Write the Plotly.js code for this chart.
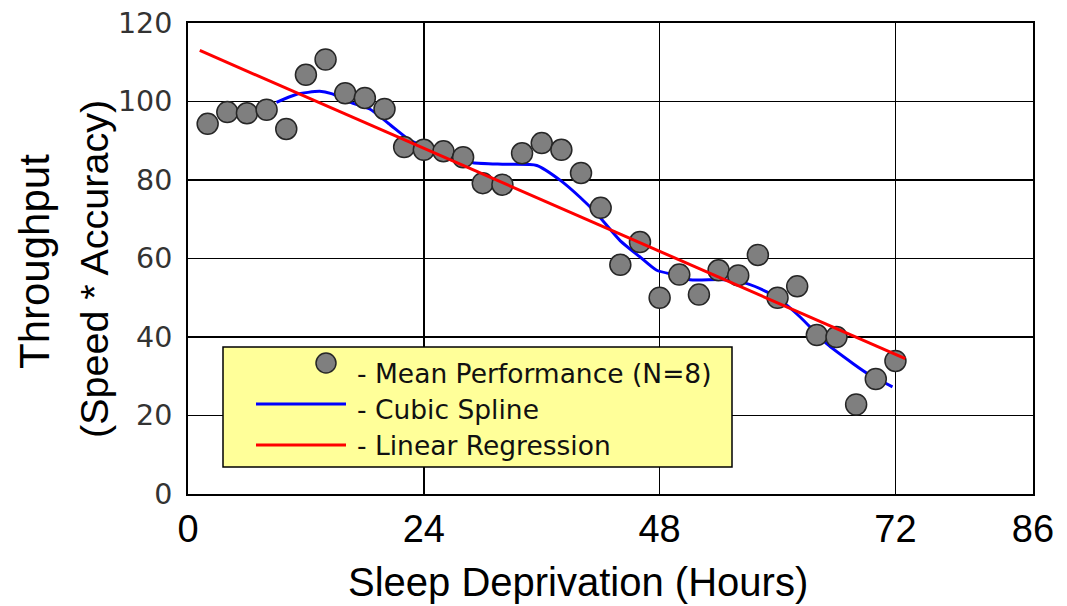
<!DOCTYPE html>
<html>
<head>
<meta charset="utf-8">
<script src="https://cdn.plot.ly/plotly-3.0.1.min.js"></script>
<style>
html,body{margin:0;padding:0;background:#fff;}
#chart{width:1067px;height:606px;}
</style>
</head>
<body>
<div id="chart"></div>
<script>
// Mean performance (N=8) every 2 hours of sleep deprivation
const hours = [2,4,6,8,10,12,14,16,18,20,22,24,26,28,30,32,34,36,38,40,42,44,46,48,50,52,54,56,58,60,62,64,66,68,70,72];
const throughput = [94.3,97.3,97.0,97.9,93.0,106.8,110.7,102.1,100.9,98.1,88.4,87.7,87.3,85.8,79.2,78.8,86.8,89.4,87.7,81.8,72.9,58.4,64.2,50.0,55.9,50.8,57.0,55.7,60.9,50.0,52.9,40.5,40.0,22.8,29.3,33.9];

// Cubic spline curve
const splineX = [9,11,13.4,14.6,16.8,18.5,20.6,22.6,25,27,29,32,35.5,37.9,39.9,41.6,44,46,47.7,49.8,51.1,54.5,56.9,58.9,60.3,62.3,65,67.7,69.4,71.7];
const splineY = [99.8,101.8,102.6,102.0,99.5,98.1,94.0,90.1,87.5,85.5,84.4,84.0,83.7,79.9,75.6,71.4,64.5,60.4,57.0,55.7,54.6,54.6,53.6,51.5,49.4,45.1,38.3,33.2,30.3,27.3];

// Linear regression line end points
const regX = [1.2, 73];
const regY = [113.0, 34.5];

// Axis ticks
const xTicks = [0,24,48,72,86];
const yTicks = [0,20,40,60,80,100,120];

// Legend labels
const legendLabels = ['- Mean Performance (N=8)', '- Cubic Spline', '- Linear Regression'];
const xTitle = 'Sleep Deprivation (Hours)';
const yTitle1 = 'Throughput';
const yTitle2 = '(Speed * Accuracy)';

const W = 1067, H = 606;
const L = 188, R = 1033, T = 23, B = 494;
const pw = R - L, ph = B - T;
const px = v => (v - L) / pw;        // pixel -> paper x
const py = v => (B - v) / ph;        // pixel -> paper y

const traces = [
  {x: splineX, y: splineY, mode: 'lines', type: 'scatter',
   line: {color: '#0000ff', width: 3, shape: 'spline', smoothing: 0.6}, hoverinfo: 'skip'},
  {x: hours, y: throughput, mode: 'markers', type: 'scatter',
   marker: {size: 21, color: '#7f7f7f', line: {color: '#262626', width: 1.5}}},
  {x: regX, y: regY, mode: 'lines', type: 'scatter',
   line: {color: '#ff0000', width: 3}}
];

const legFont = {family: 'DejaVu Sans', size: 26.5, color: '#111'};
const annotations = [
  {xref: 'paper', yref: 'paper', x: px(578), y: py(582), text: xTitle, showarrow: false,
   xanchor: 'center', yanchor: 'middle', font: {family: 'Liberation Sans', size: 40, color: '#000'}},
  {xref: 'paper', yref: 'paper', x: px(34), y: py(262), text: yTitle1, showarrow: false, textangle: -90,
   xanchor: 'center', yanchor: 'middle', font: {family: 'Liberation Sans', size: 42, color: '#000'}},
  {xref: 'paper', yref: 'paper', x: px(94), y: py(269), text: yTitle2, showarrow: false, textangle: -90,
   xanchor: 'center', yanchor: 'middle', font: {family: 'Liberation Sans', size: 39.5, color: '#000'}},
  {xref: 'paper', yref: 'paper', x: px(355), y: py(373), text: legendLabels[0], showarrow: false,
   xanchor: 'left', yanchor: 'middle', font: legFont},
  {xref: 'paper', yref: 'paper', x: px(355), y: py(409), text: legendLabels[1], showarrow: false,
   xanchor: 'left', yanchor: 'middle', font: legFont},
  {xref: 'paper', yref: 'paper', x: px(355), y: py(445), text: legendLabels[2], showarrow: false,
   xanchor: 'left', yanchor: 'middle', font: legFont}
];

const shapes = [
  {type: 'rect', xref: 'paper', yref: 'paper', x0: px(223), x1: px(732), y0: py(347), y1: py(467),
   fillcolor: '#ffff99', line: {color: '#000', width: 1.5}, layer: 'above'},
  {type: 'circle', xref: 'paper', yref: 'paper', x0: px(316), x1: px(336), y0: py(353), y1: py(373),
   fillcolor: '#7f7f7f', line: {color: '#262626', width: 1.5}, layer: 'above'},
  {type: 'line', xref: 'paper', yref: 'paper', x0: px(256), x1: px(346), y0: py(404), y1: py(404),
   line: {color: '#0000ff', width: 3}, layer: 'above'},
  {type: 'line', xref: 'paper', yref: 'paper', x0: px(256), x1: px(346), y0: py(445), y1: py(445),
   line: {color: '#ff0000', width: 3}, layer: 'above'}
];

const layout = {
  width: W, height: H,
  margin: {l: L, r: W - R, t: T, b: H - B, pad: 0},
  paper_bgcolor: '#ffffff', plot_bgcolor: '#ffffff',
  showlegend: false,
  xaxis: {
    range: [0, 86], tickvals: xTicks, ticktext: xTicks.map(String),
    showgrid: true, gridcolor: '#000', gridwidth: 1.5,
    zeroline: false, showline: true, linecolor: '#000', linewidth: 2, mirror: true,
    ticks: '', ticklen: 0, ticklabelstandoff: 0,
    tickfont: {family: 'Liberation Sans', size: 38, color: '#000'}
  },
  yaxis: {
    range: [0, 120], tickvals: yTicks, ticktext: yTicks.map(String),
    showgrid: true, gridcolor: '#000', gridwidth: 1.5,
    zeroline: false, showline: true, linecolor: '#000', linewidth: 2, mirror: true,
    ticks: '', ticklen: 0, ticklabelstandoff: 8,
    tickfont: {family: 'DejaVu Sans', size: 28.5, color: '#333'}
  },
  annotations: annotations,
  shapes: shapes
};

Plotly.newPlot('chart', traces, layout, {staticPlot: true, displayModeBar: false});
</script>
</body>
</html>
